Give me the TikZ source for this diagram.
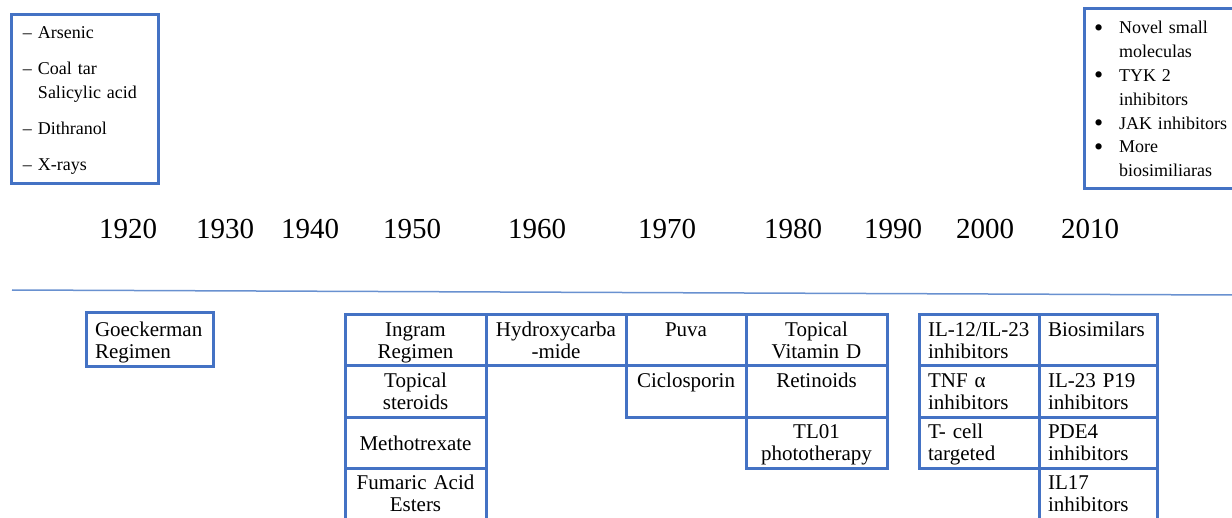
\documentclass[tikz,border=0pt]{standalone}
\usepackage{fontspec}
\setmainfont{Liberation Serif}
\usepackage{tikz}
\usetikzlibrary{positioning}
\definecolor{boxblue}{RGB}{68,114,196}
\definecolor{lineblue}{RGB}{105,145,208}
\newcommand{\dashmark}{\makebox[7.5pt][l]{–}}
\newcommand{\bulletmark}{\makebox[12.5pt][l]{\smash{\raisebox{-1.2pt}{\scalebox{1.45}{•}}}}}
\tikzset{cell/.style={draw=boxblue,line width=1.5pt,outer sep=0pt,anchor=north west,
		inner xsep=4.5pt,inner ysep=2.5pt,text height=8pt,text depth=12.5pt,
		align=center,font=\fontsize{10.5}{11}\selectfont},
}

\begin{document}
\begin{tikzpicture}[x=0.5pt,y=-0.5pt,
		year/.style={font=\fontsize{14.5}{16}\selectfont,inner sep=0pt},
		listbox/.style={draw=boxblue,line width=1.5pt,outer sep=0pt,anchor=north west,
			align=left,font=\fontsize{9}{11.9}\selectfont},
		colA/.style={cell,text width=61.5pt},
		colB/.style={cell,text width=61pt},
		colC/.style={cell,text width=51pt},
		colD/.style={cell,text width=61.5pt},
		colE/.style={cell,text width=51pt,align=left},
		colF/.style={cell,text width=50pt,align=left}]
	\useasboundingbox (0,0) rectangle (1232,518);
	
	% lists at the top
	\node[listbox,inner xsep=6pt,inner ysep=3pt,text width=61.5pt,text height=9pt,text depth=69.5pt] (early) at (11,15)
	{\dashmark Arsenic\\[6pt]
		\dashmark Coal tar\\
		\hspace*{7.5pt}Salicylic acid\\[6pt]
		\dashmark Dithranol\\[6pt]
		\dashmark X-rays};
	\node[listbox,inner xsep=5pt,inner ysep=3pt,text width=68pt,text height=9.5pt,text depth=74.5pt] (future) at (1084,9)
	{\bulletmark Novel small\\
		\hspace*{12.5pt}moleculas\\
		\bulletmark TYK 2\\
		\hspace*{12.5pt}inhibitors\\
		\bulletmark JAK inhibitors\\
		\bulletmark More\\
		\hspace*{12.5pt}biosimiliaras};
	
	% years
	\foreach \yr/\xpos in {1920/128,1930/225,1940/310,1950/412,1960/537,1970/667,1980/793,1990/893,2000/985,2010/1090}
	\node[year] (y\yr) at (\xpos,229) {\yr};
	
	% time line
	\coordinate (tlstart) at (12,290);
	\coordinate (tlend) at (1232,295);
	\draw[lineblue,line width=0.75pt] (tlstart) -- (tlend);
	
	% treatments
	\node[cell,align=left,text width=54.5pt,text height=9pt,text depth=13pt] (goeck) at (86,313) {Goeckerman\\Regimen};
	
	\node[colA] (ingram) at (345,315) {Ingram\\Regimen};
	\node[colA,below=0pt of ingram] (steroids) {Topical\\steroids};
	\node[colA,below=0pt of steroids,text height=14.5pt,text depth=6pt] (mtx) {Methotrexate};
	\node[colA,below=0pt of mtx,text depth=18.5pt] (fumaric) {Fumaric Acid\\Esters};
	\node[colB,right=0pt of ingram] (hydroxy) {Hydroxycarba\\-mide};
	\node[colC,right=0pt of hydroxy] (puva) {Puva};
	\node[colC,below=0pt of puva] (ciclo) {Ciclosporin};
	\node[colD,right=0pt of puva] (vitd) {Topical\\Vitamin D};
	\node[colD,below=0pt of vitd] (retin) {Retinoids};
	\node[colD,below=0pt of retin] (tl01) {TL01\\phototherapy};
	
	\node[colE] (il12) at (919,315) {IL-12/IL-23\\inhibitors};
	\node[colE,below=0pt of il12] (tnf) {TNF α\\inhibitors};
	\node[colE,below=0pt of tnf] (tcell) {T- cell\\targeted};
	\node[colF,right=0pt of il12] (biosim) {Biosimilars};
	\node[colF,below=0pt of biosim] (p19) {IL-23 P19\\inhibitors};
	\node[colF,below=0pt of p19] (pde4) {PDE4\\inhibitors};
	\node[colF,below=0pt of pde4,text depth=18.5pt] (il17) {IL17\\inhibitors};
\end{tikzpicture}
\end{document}
